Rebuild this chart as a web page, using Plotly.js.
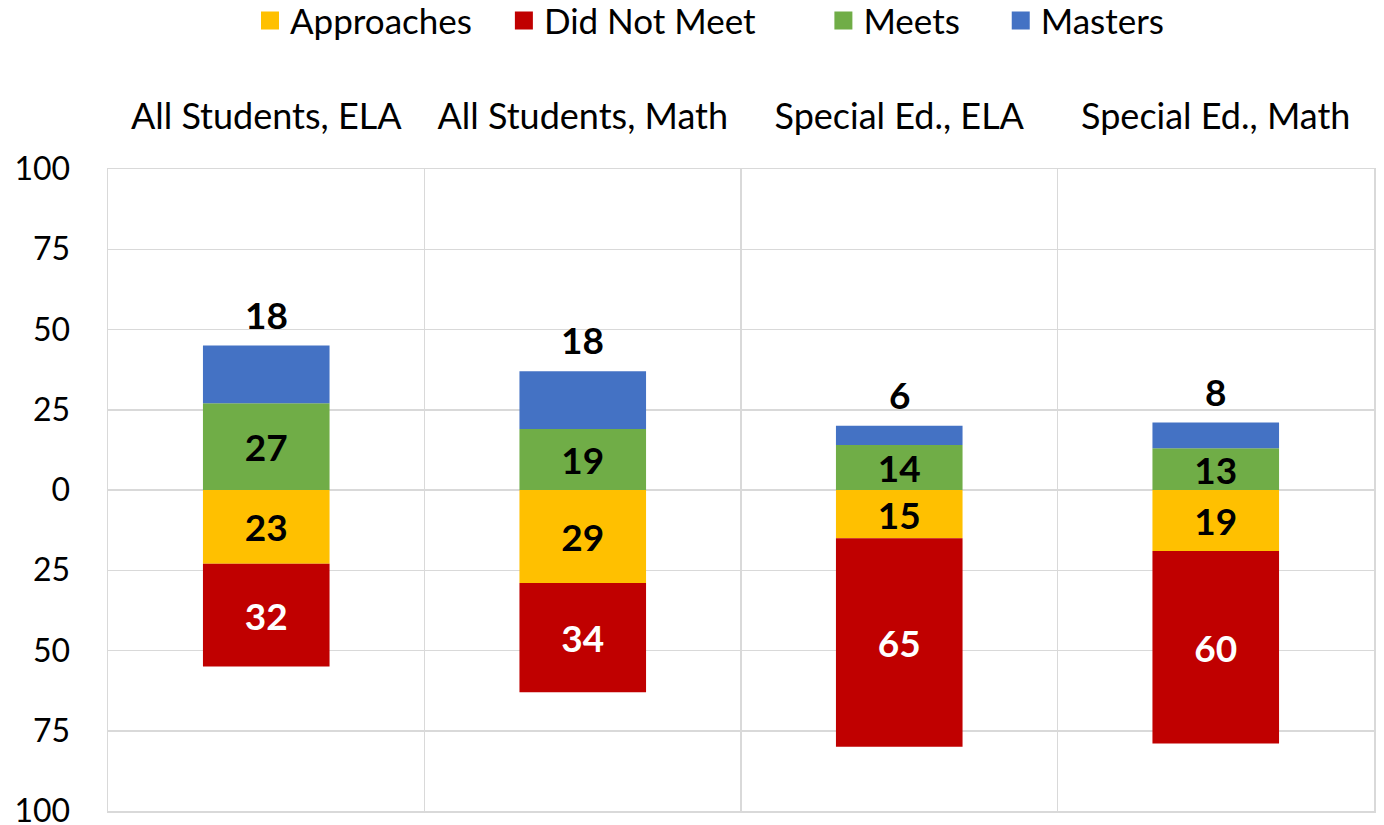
<!DOCTYPE html>
<html>
<head>
<meta charset="utf-8">
<script src="https://cdn.plot.ly/plotly-3.0.1.min.js"></script>
<style>html,body{margin:0;padding:0;background:#fff;}#chart{width:1384px;height:825px;}</style>
</head>
<body>
<div id="chart"></div>
<script>
const categories = ["All Students, ELA", "All Students, Math", "Special Ed., ELA", "Special Ed., Math"];
const approaches = [23, 29, 15, 19];
const didNotMeet = [32, 34, 65, 60];
const meets = [27, 19, 14, 13];
const masters = [18, 18, 6, 8];
const yTickVals = [-100, -75, -50, -25, 0, 25, 50, 75, 100];
const yTickText = ["100", "75", "50", "25", "0", "25", "50", "75", "100"];
const seriesNames = ["Approaches", "Did Not Meet", "Meets", "Masters"];
const seriesColors = ["#FFC000", "#C00000", "#70AD47", "#4472C4"];

const FONT = "Lato, 'Open Sans', sans-serif";
const labelFont = (color) => ({family: FONT, size: 37, color: color, weight: "bold"});

function barTrace(name, values, sign, color, textColor, showText) {
  return {
    type: "bar",
    name: name,
    x: categories,
    y: values.map(v => sign * v),
    text: showText ? values.map(v => String(v)) : undefined,
    texttemplate: showText ? "<b>%{text}</b>" : undefined,
    textposition: showText ? "inside" : "none",
    insidetextanchor: "middle",
    textangle: 0,
    constraintext: "none",
    textfont: labelFont(textColor),
    marker: {color: color},
    width: 0.4,
    showlegend: false,
    hoverinfo: "skip"
  };
}

const data = [
  barTrace(seriesNames[0], approaches, -1, seriesColors[0], "#000000", true),
  barTrace(seriesNames[1], didNotMeet, -1, seriesColors[1], "#FFFFFF", true),
  barTrace(seriesNames[2], meets, 1, seriesColors[2], "#000000", true),
  barTrace(seriesNames[3], masters, 1, seriesColors[3], "#000000", false)
];

// legend entries (larger square swatches, wider spacing)
const padCounts = [3, 7, 4, 0];
seriesNames.forEach((n, i) => {
  data.push({
    type: "scatter",
    mode: "markers",
    name: n + "\u00A0".repeat(padCounts[i]),
    x: [null], y: [null],
    marker: {symbol: "square", size: 20, color: seriesColors[i], line: {width: 2, color: seriesColors[i]}},
    showlegend: true,
    hoverinfo: "skip"
  });
});

const annotations = categories.map((c, i) => ({
  x: c,
  y: meets[i] + masters[i],
  xref: "x", yref: "y",
  text: "<b>" + masters[i] + "</b>",
  showarrow: false,
  yanchor: "bottom",
  yshift: 7,
  font: labelFont("#000000")
}));

const layout = {
  width: 1384,
  height: 825,
  margin: {l: 108, r: 10, t: 169, b: 14, pad: 0},
  paper_bgcolor: "#ffffff",
  plot_bgcolor: "#ffffff",
  font: {family: FONT, size: 32, color: "#000000"},
  barmode: "relative",
  showlegend: true,
  legend: {
    orientation: "h",
    xref: "container", yref: "container",
    x: 0.513, xanchor: "center",
    y: 0.975, yanchor: "middle",
    font: {family: FONT, size: 35, color: "#000000"},
    itemwidth: 30,
    traceorder: "normal"
  },
  xaxis: {
    type: "category",
    side: "top",
    range: [-0.5, 3.5],
    tickson: "boundaries",
    ticks: "",
    showgrid: true,
    gridcolor: "#D9D9D9",
    gridwidth: 1.5,
    showline: true,
    mirror: true,
    linecolor: "#D9D9D9",
    linewidth: 1.5,
    ticklabelstandoff: 24,
    tickfont: {family: FONT, size: 36, color: "#000000"},
    fixedrange: true
  },
  yaxis: {
    range: [-100, 100],
    tickvals: yTickVals,
    ticktext: yTickText,
    ticks: "",
    showgrid: true,
    gridcolor: "#D9D9D9",
    gridwidth: 1.5,
    zeroline: false,
    showline: true,
    mirror: true,
    linecolor: "#D9D9D9",
    linewidth: 1.5,
    ticklabelstandoff: 30,
    ticklabeloverflow: "allow",
    tickfont: {family: FONT, size: 32, color: "#000000"},
    fixedrange: true
  },
  annotations: annotations
};

Plotly.newPlot("chart", data, layout, {staticPlot: true, displayModeBar: false});
</script>
</body>
</html>
